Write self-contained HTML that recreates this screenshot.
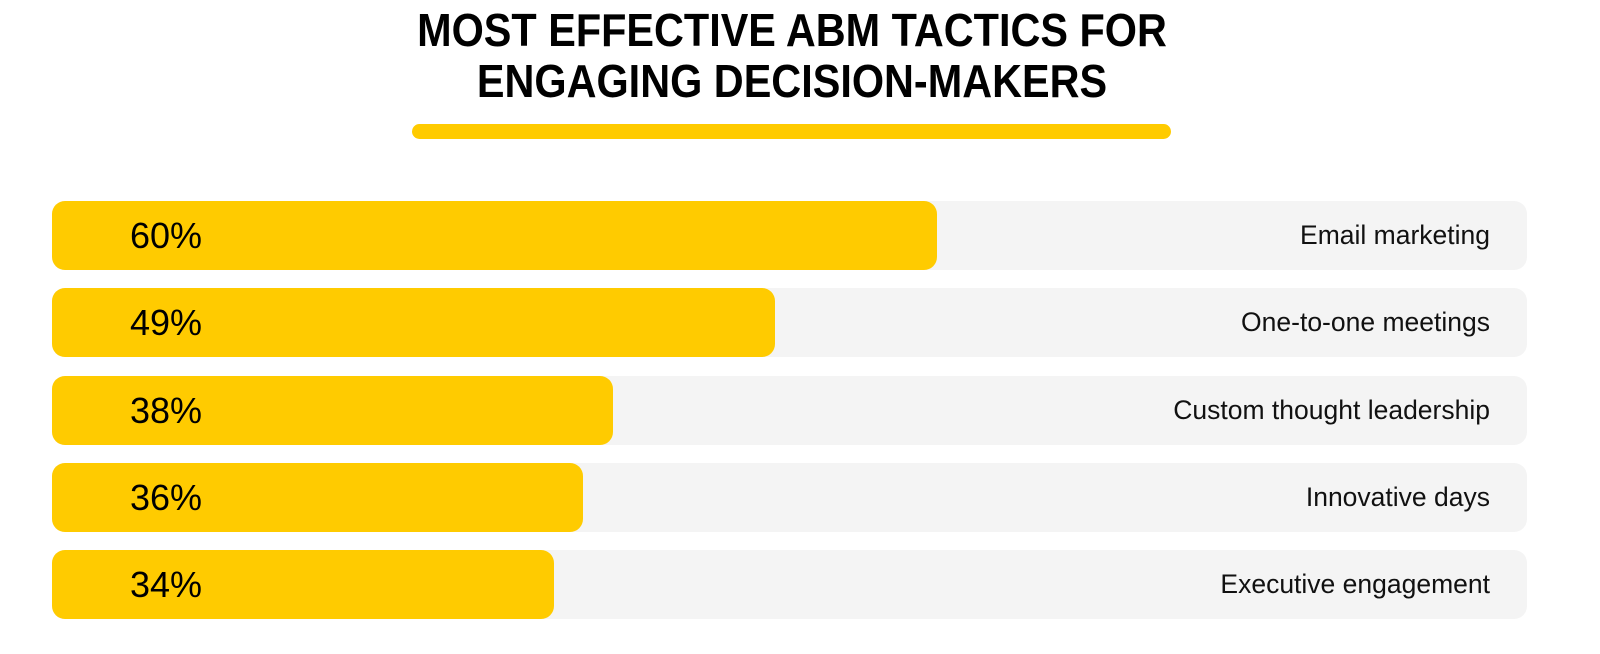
<!DOCTYPE html>
<html><head><meta charset="utf-8"><style>
body{margin:0;background:#fff;width:1600px;height:654px;overflow:hidden;font-family:"Liberation Sans",sans-serif}
#title{position:absolute;left:0;width:1584px;top:5px;text-align:center;font-weight:bold;font-size:46px;line-height:51px;color:#000;transform:scaleX(0.9);transform-origin:792px 0}
#uline{position:absolute;left:412px;top:124px;width:759px;height:15px;border-radius:8px;background:#FFCB00}
.track{position:absolute;left:52px;width:1475px;height:69px;background:#f4f4f4;border-radius:13px}
.bar{position:absolute;left:0;top:0;height:69px;background:#FFCB00;border-radius:13px}
.val{position:absolute;left:78px;top:0;line-height:69px;font-size:36px;color:#000}
.lab{position:absolute;right:37px;top:0;line-height:69px;font-size:26.5px;color:#111}
</style></head><body>
<div id="title">MOST EFFECTIVE ABM TACTICS FOR<br>ENGAGING DECISION-MAKERS</div>
<div id="uline"></div>
<div id="chart"></div>
<script>
const categories=["Email marketing","One-to-one meetings","Custom thought leadership","Innovative days","Executive engagement"];
const values=[60,49,38,36,34];
const valueLabels=["60%","49%","38%","36%","34%"];
const trackW=1475, top0=201, pitch=87.3;
function x(v){return v/100*trackW;}
function y(i){return top0+i*pitch;}
const chart=document.getElementById('chart');
categories.forEach((c,i)=>{
  const t=document.createElement('div');t.className='track';t.style.top=y(i)+'px';
  
  
  const b=document.createElement('div');b.className='bar';b.style.width=x(values[i])+'px';
  
  
  const v=document.createElement('div');v.className='val';v.textContent=valueLabels[i];
  
  
  const l=document.createElement('div');l.className='lab';l.textContent=c;
  
  
  t.appendChild(b);t.appendChild(v);t.appendChild(l);chart.appendChild(t);
});
</script>
</body></html>
